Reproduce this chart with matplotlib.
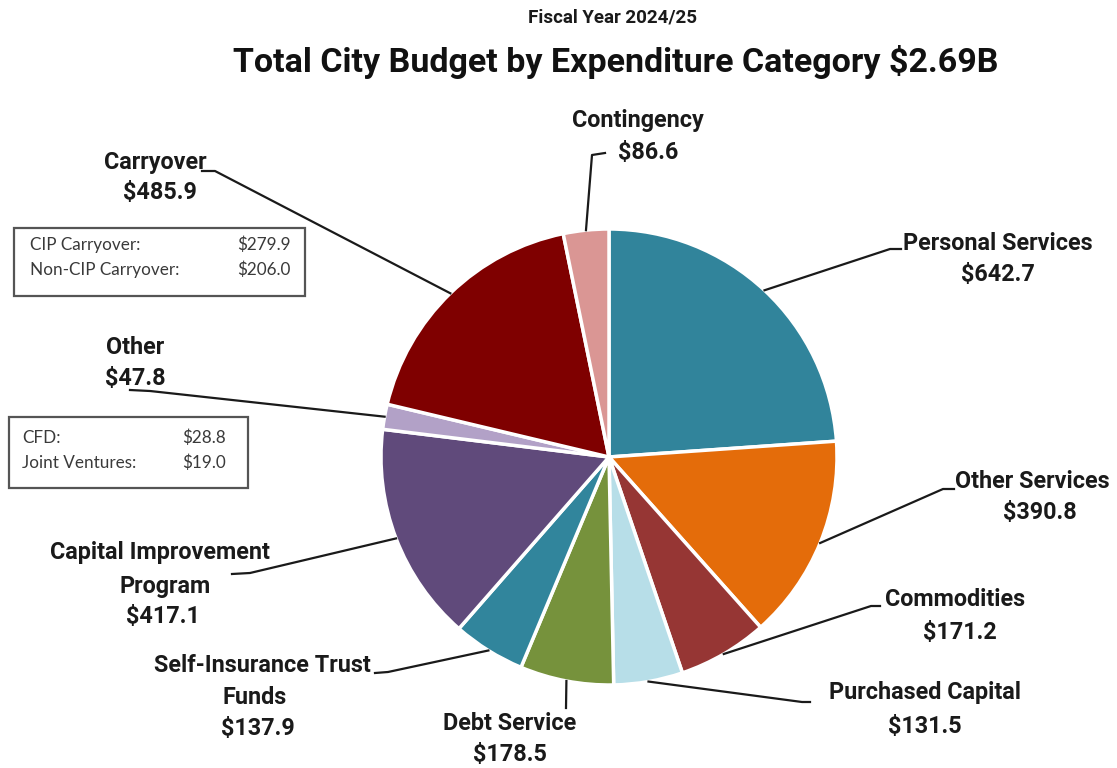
import numpy as np
import matplotlib
matplotlib.use("Agg")
import matplotlib.pyplot as plt
from matplotlib.patches import Rectangle

# FY 2024/25 budget by expenditure category ($ millions), clockwise from 12 o'clock
categories = ["Personal Services", "Other Services", "Commodities", "Purchased Capital",
              "Debt Service", "Self-Insurance Trust Funds", "Capital Improvement Program",
              "Other", "Carryover", "Contingency"]
amounts = [642.7, 390.8, 171.2, 131.5, 178.5, 137.9, 417.1, 47.8, 485.9, 86.6]
colors = ["#31849B", "#E46C0A", "#963634", "#B7DEE8", "#76923C",
          "#31859C", "#604A7B", "#B2A1C7", "#7F0000", "#DA9694"]

# breakdown boxes
carry_items = ["CIP Carryover:", "Non-CIP Carryover:"]
carry_vals = [279.9, 206.0]
other_items = ["CFD:", "Joint Ventures:"]
other_vals = [28.8, 19.0]

# label layout in pixel space: text lines, line centres, elbow points of the leader
label_lines = {
    "Personal Services": (["Personal Services"], [(998, 243), (998, 275)], [(890, 249), (901, 249)]),
    "Other Services": (["Other Services"], [(1032, 482), (1040, 513)], [(943, 489), (954, 489)]),
    "Commodities": (["Commodities"], [(955, 600), (960, 632)], [(871, 606), (880, 606)]),
    "Purchased Capital": (["Purchased Capital"], [(925, 693), (925, 726)], [(802, 702), (810, 702)]),
    "Debt Service": (["Debt Service"], [(510, 723), (510, 755)], [(566, 708)]),
    "Self-Insurance Trust Funds": (["Self-Insurance Trust", "Funds"], [(262, 665), (255, 697), (258, 728)],
                                   [(388, 672), (375, 673)]),
    "Capital Improvement Program": (["Capital Improvement", "Program"], [(160, 553), (165, 586), (163, 617)],
                                    [(250, 573), (232, 574)]),
    "Other": (["Other"], [(135, 347), (135, 379)], [(150, 391), (130, 390)]),
    "Carryover": (["Carryover"], [(155, 162), (160, 193)], [(215, 171), (202, 171)]),
    "Contingency": (["Contingency"], [(638, 120), (648, 152)], [(592, 155), (605, 153)]),
}

cx, cy, r = 609, 457, 228

fig = plt.figure(figsize=(11.17, 7.68), dpi=100)
ax = fig.add_axes([0, 0, 1, 1])

wedges, _ = ax.pie(amounts, colors=colors, startangle=-90, counterclock=True,
                   center=(cx, cy), radius=r,
                   wedgeprops=dict(edgecolor="white", linewidth=2.5))
ax.set_xlim(0, 1117)
ax.set_ylim(768, 0)
ax.set_aspect("equal")
ax.axis("off")

lab_font = dict(family="Roboto", fontweight="bold", fontsize=16.8, color="#1a1a1a")

for w, name, val in zip(wedges, categories, amounts):
    lines, pos, elbow = label_lines[name]
    mid = np.deg2rad((w.theta1 + w.theta2) / 2)
    sx, sy = cx + r * np.cos(mid), cy + r * np.sin(mid)
    pts = [(sx, sy)] + elbow
    ax.plot([p[0] for p in pts], [p[1] for p in pts], color="#1a1a1a", lw=1.6,
            solid_joinstyle="round")
    texts = lines + [f"${val:.1f}"]
    for t, (x, y) in zip(texts, pos):
        ax.text(x, y, t, ha="center", va="center", **lab_font)

# titles
ax.text(612, 18, "Fiscal Year 2024/25", ha="center", va="center",
        family="Roboto", fontweight="bold", fontsize=13.5, color="#1a1a1a")
ax.text(616, 62, "Total City Budget by Expenditure Category $2.69B", ha="center", va="center",
        family="Roboto", fontweight="bold", fontsize=24.5, color="#111111")

# breakdown boxes
box_font = dict(family="Lato", fontsize=12.3, color="#3a3a3a", va="center")


def breakdown(x0, y0, w, h, tx, vx, ys, items, vals):
    ax.add_patch(Rectangle((x0, y0), w, h, fill=False, edgecolor="#555555", lw=1.6))
    for y, it, v in zip(ys, items, vals):
        ax.text(tx, y, it, ha="left", **box_font)
        ax.text(vx, y, f"${v:.1f}", ha="right", **box_font)


breakdown(14, 228, 291, 68, 30, 291, [245, 270], carry_items, carry_vals)
breakdown(9, 417, 239, 71, 22, 226, [438, 463], other_items, other_vals)

fig.savefig("out.png", dpi=100, facecolor="white")
